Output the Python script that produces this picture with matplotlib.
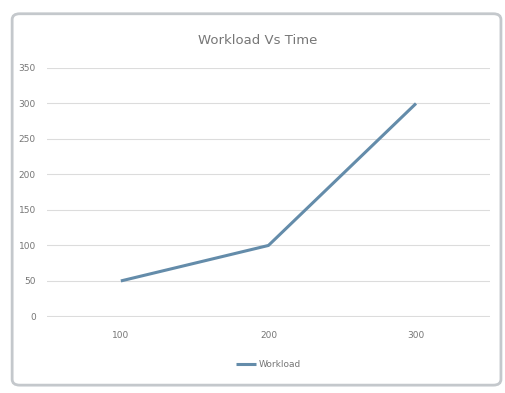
import matplotlib.pyplot as plt
from matplotlib.patches import FancyBboxPatch

# data
time = ['100', '200', '300']
workload = [50, 100, 300]
yticks = [0, 50, 100, 150, 200, 250, 300, 350]

text_color = '#767676'
line_color = '#648caa'

fig = plt.figure(figsize=(5.06, 3.93), dpi=100)

# rounded chart frame
frame = FancyBboxPatch((0.024, 0.02), 0.966, 0.945, boxstyle='round,pad=0,rounding_size=0.015',
                       transform=fig.transFigure, facecolor='white', edgecolor='#c4c8cc',
                       linewidth=2.0, zorder=-5)
fig.patches.append(frame)

ax = fig.add_axes([0.093, 0.193, 0.875, 0.634])
ax.set_zorder(2)
ax.set_facecolor('none')
ax.plot(range(len(time)), workload, color=line_color, linewidth=2.2, label='Workload',
        solid_capstyle='butt')
ax.set_xlim(-0.5, len(time) - 0.5)
ax.set_ylim(-1, 350)
ax.set_yticks(yticks)
ax.set_xticks(range(len(time)))
ax.set_xticklabels(time)
ax.grid(axis='y', color='#dcdcdc', linewidth=0.8)
ax.set_axisbelow(True)
for s in ax.spines.values():
    s.set_visible(False)
ax.tick_params(length=0, labelsize=6.5, labelcolor=text_color, pad=8)
ax.tick_params(axis='x', pad=10)

fig.text(0.51, 0.898, 'Workload Vs Time', ha='center', va='center', fontsize=9.5,
         color=text_color)
ax.legend(loc='upper center', bbox_to_anchor=(0.5, -0.14), frameon=False, fontsize=6.5,
          labelcolor=text_color, handlelength=2.2, handletextpad=0.3)

fig.savefig('out.png', dpi=100)
